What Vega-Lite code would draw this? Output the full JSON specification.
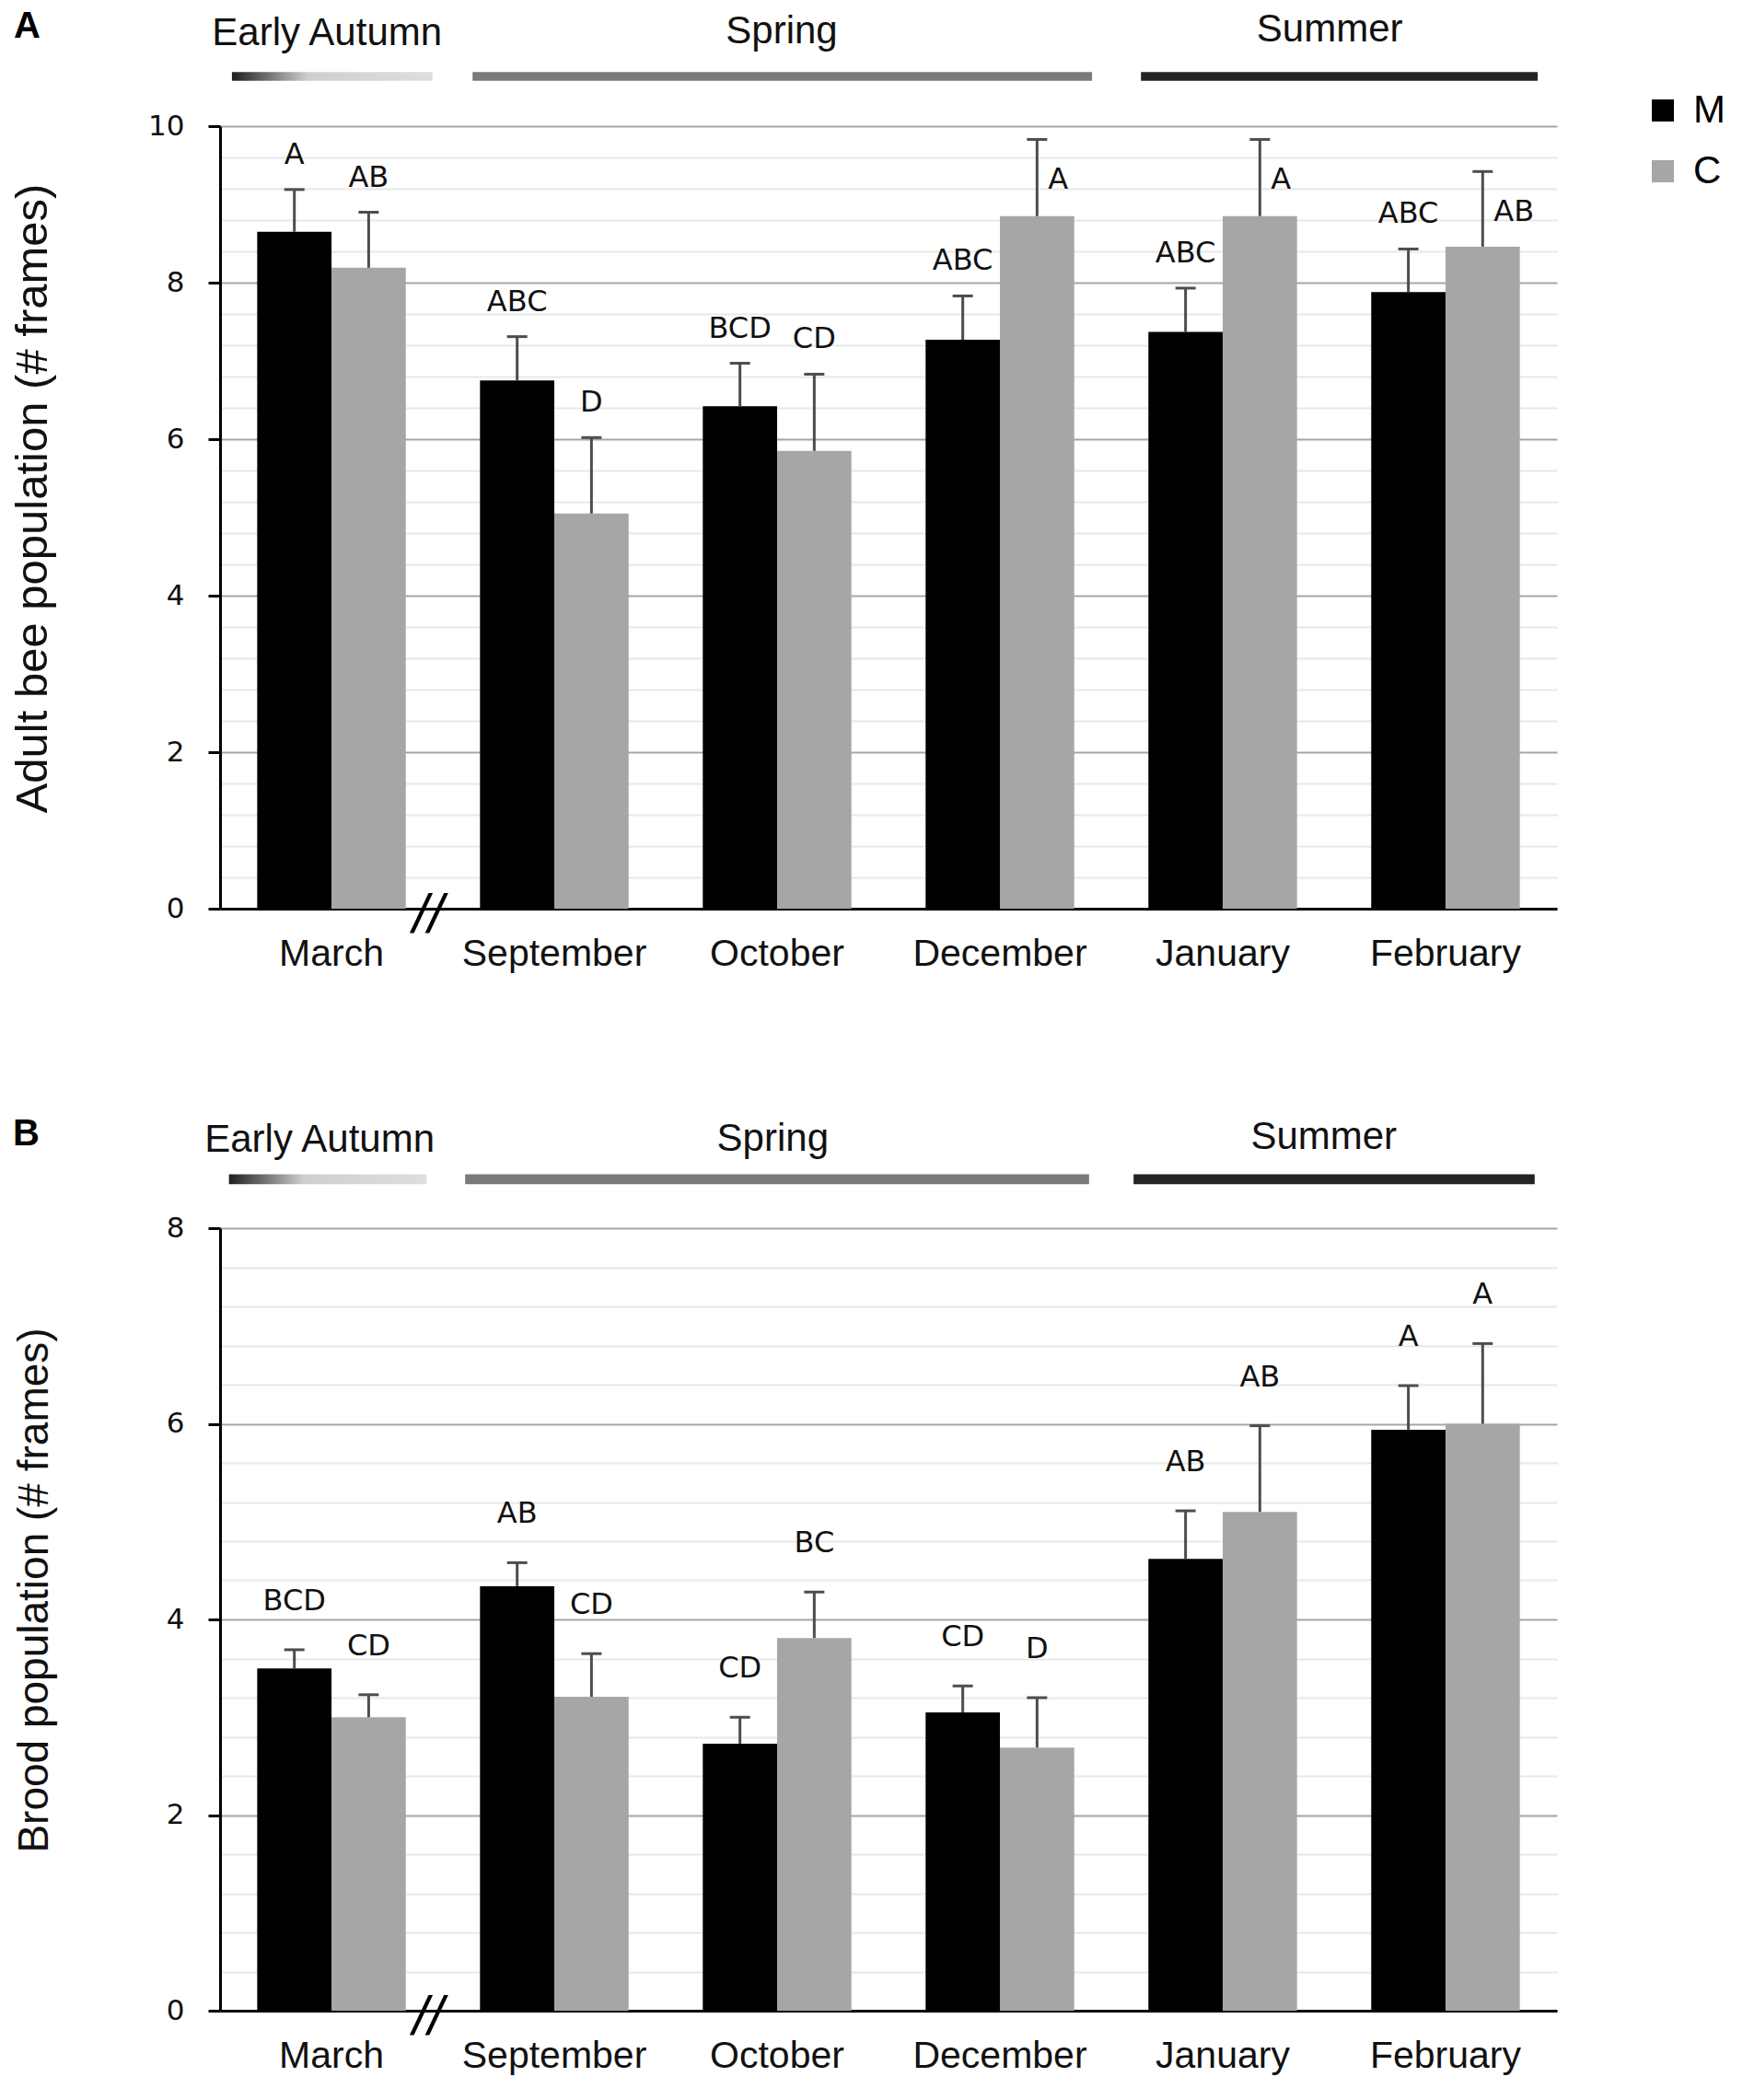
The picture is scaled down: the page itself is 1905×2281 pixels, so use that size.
{
  "$schema": "https://vega.github.io/schema/vega-lite/v6.json",
  "padding": {"left": 11, "top": 8, "right": 5, "bottom": 5},
  "background": "white",
  "datasets": {
    "adult": [
      {"month": "March", "group": "M", "value": 8.65, "err": 9.19, "letters": "A"},
      {"month": "March", "group": "C", "value": 8.19, "err": 8.9, "letters": "AB"},
      {"month": "September", "group": "M", "value": 6.75, "err": 7.31, "letters": "ABC"},
      {"month": "September", "group": "C", "value": 5.05, "err": 6.02, "letters": "D"},
      {"month": "October", "group": "M", "value": 6.42, "err": 6.97, "letters": "BCD"},
      {"month": "October", "group": "C", "value": 5.85, "err": 6.83, "letters": "CD"},
      {"month": "December", "group": "M", "value": 7.27, "err": 7.83, "letters": "ABC"},
      {"month": "December", "group": "C", "value": 8.85, "err": 9.83, "letters": "A"},
      {"month": "January", "group": "M", "value": 7.37, "err": 7.93, "letters": "ABC"},
      {"month": "January", "group": "C", "value": 8.85, "err": 9.83, "letters": "A"},
      {"month": "February", "group": "M", "value": 7.88, "err": 8.43, "letters": "ABC"},
      {"month": "February", "group": "C", "value": 8.46, "err": 9.42, "letters": "AB"}
    ],
    "brood": [
      {"month": "March", "group": "M", "value": 3.5, "err": 3.69, "letters": "BCD"},
      {"month": "March", "group": "C", "value": 3.0, "err": 3.23, "letters": "CD"},
      {"month": "September", "group": "M", "value": 4.34, "err": 4.58, "letters": "AB"},
      {"month": "September", "group": "C", "value": 3.21, "err": 3.65, "letters": "CD"},
      {"month": "October", "group": "M", "value": 2.73, "err": 3.0, "letters": "CD"},
      {"month": "October", "group": "C", "value": 3.81, "err": 4.28, "letters": "BC"},
      {"month": "December", "group": "M", "value": 3.05, "err": 3.32, "letters": "CD"},
      {"month": "December", "group": "C", "value": 2.69, "err": 3.2, "letters": "D"},
      {"month": "January", "group": "M", "value": 4.62, "err": 5.11, "letters": "AB"},
      {"month": "January", "group": "C", "value": 5.1, "err": 5.98, "letters": "AB"},
      {"month": "February", "group": "M", "value": 5.94, "err": 6.39, "letters": "A"},
      {"month": "February", "group": "C", "value": 6.0, "err": 6.82, "letters": "A"}
    ],
    "seasons": [
      {"season": "Early Autumn", "from": "March", "to": "March"},
      {"season": "Spring", "from": "September", "to": "December"},
      {"season": "Summer", "from": "January", "to": "February"}
    ]
  },
  "spacing": 156,
  "resolve": {"scale": {"color": "independent"}},
  "vconcat": [
    {
      "title": {"text": "A", "anchor": "start", "frame": "group", "fontSize": 40, "fontWeight": "bold", "font": "Liberation Sans", "color": "#000", "offset": -38, "dx": -224},
      "width": 1452,
      "height": 850,
      "layer": [
        {
          "data": {"name": "adult"},
          "mark": {"type": "bar"},
          "encoding": {
            "x": {"field": "month", "type": "nominal", "title": null, "scale": {"domain": ["March", "September", "October", "December", "January", "February"], "paddingInner": 0.333, "paddingOuter": 0.1667}},
            "xOffset": {"field": "group", "scale": {"domain": ["M", "C"], "paddingInner": 0, "paddingOuter": 0}},
            "y": {
              "field": "value", "type": "quantitative",
              "scale": {"domain": [0, 10], "nice": false},
              "axis": {
                "title": "Adult bee population (# frames)",
                "titleFontSize": 49,
                "titleY": 404,
                "values": [0, 0.4, 0.8, 1.2, 1.6, 2, 2.4, 2.8, 3.2, 3.6, 4, 4.4, 4.8, 5.2, 5.6, 6, 6.4, 6.8, 7.2, 7.6, 8, 8.4, 8.8, 9.2, 9.6, 10],
                "tickCount": 40,
                "labelExpr": "datum.value % 2 === 0 ? format(datum.value, 'd') : ''",
                "gridColor": {"condition": {"test": "datum.value % 2 === 0", "value": "#a6a6a6"}, "value": "#e8e8e8"},
                "tickColor": {"condition": {"test": "datum.value % 2 === 0", "value": "#000000"}, "value": "transparent"},
                "labelOverlap": false,
                "titlePadding": 100
              }
            },
            "color": {
              "field": "group", "type": "nominal",
              "scale": {"domain": ["M", "C"], "range": ["#000000", "#a6a6a6"]},
              "legend": {"title": null, "orient": "none", "legendX": 1546, "legendY": -38, "symbolType": "square", "symbolSize": 576, "symbolStrokeWidth": 0, "labelFontSize": 42, "labelFont": "Liberation Sans", "labelColor": "#000", "rowPadding": 24, "labelOffset": 12}
            }
          }
        },
        {
          "data": {"name": "adult"},
          "mark": {"type": "rule", "color": "#4d4d4d", "strokeWidth": 3},
          "encoding": {
            "x": {"field": "month", "type": "nominal", "title": null, "scale": {"domain": ["March", "September", "October", "December", "January", "February"], "paddingInner": 0.333, "paddingOuter": 0.1667}},
            "xOffset": {"field": "group", "scale": {"domain": ["M", "C"], "paddingInner": 0, "paddingOuter": 0}},
            "y": {"field": "value", "type": "quantitative", "title": "Adult bee population (# frames)"},
            "y2": {"field": "err"}
          }
        },
        {
          "data": {"name": "adult"},
          "mark": {"type": "tick", "color": "#4d4d4d", "size": 22, "thickness": 3, "orient": "horizontal", "opacity": 1},
          "encoding": {
            "x": {"field": "month", "type": "nominal", "title": null, "scale": {"domain": ["March", "September", "October", "December", "January", "February"], "paddingInner": 0.333, "paddingOuter": 0.1667}},
            "xOffset": {"field": "group", "scale": {"domain": ["M", "C"], "paddingInner": 0, "paddingOuter": 0}},
            "y": {"field": "err", "type": "quantitative", "title": "Adult bee population (# frames)"}
          }
        },
        {
          "data": {"name": "adult"},
          "transform": [{"filter": "datum.err <= 9.3"}],
          "mark": {"type": "text", "font": "DejaVu Sans", "fontSize": 32, "color": "#111", "baseline": "middle", "align": "center", "dy": -38},
          "encoding": {
            "x": {"field": "month", "type": "nominal", "title": null, "scale": {"domain": ["March", "September", "October", "December", "January", "February"], "paddingInner": 0.333, "paddingOuter": 0.1667}},
            "xOffset": {"field": "group", "scale": {"domain": ["M", "C"], "paddingInner": 0, "paddingOuter": 0}},
            "y": {"field": "err", "type": "quantitative", "title": "Adult bee population (# frames)"},
            "text": {"field": "letters"}
          }
        },
        {
          "data": {"name": "adult"},
          "transform": [{"filter": "datum.err > 9.3"}],
          "mark": {"type": "text", "font": "DejaVu Sans", "fontSize": 32, "color": "#111", "baseline": "middle", "align": "left", "dx": 12, "dy": 44},
          "encoding": {
            "x": {"field": "month", "type": "nominal", "title": null, "scale": {"domain": ["March", "September", "October", "December", "January", "February"], "paddingInner": 0.333, "paddingOuter": 0.1667}},
            "xOffset": {"field": "group", "scale": {"domain": ["M", "C"], "paddingInner": 0, "paddingOuter": 0}},
            "y": {"field": "err", "type": "quantitative", "title": "Adult bee population (# frames)"},
            "text": {"field": "letters"}
          }
        },
        {
          "data": {"values": [{"mark": "//"}]},
          "mark": {"type": "text", "font": "Liberation Sans", "fontSize": 60, "fontStyle": "italic", "color": "#000", "baseline": "middle", "align": "center", "dy": 8},
          "encoding": {
            "x": {"datum": "March", "type": "nominal", "bandPosition": 1.15, "title": null, "scale": {"domain": ["March", "September", "October", "December", "January", "February"], "paddingInner": 0.333, "paddingOuter": 0.1667}},
            "y": {"datum": 0, "type": "quantitative"},
            "text": {"field": "mark"}
          }
        },
        {
          "data": {"name": "seasons"},
          "transform": [{"filter": "datum.season === 'Early Autumn'"}],
          "mark": {"type": "rect", "fill": {"gradient": "linear", "x1": 0, "y1": 0, "x2": 1, "y2": 0, "stops": [{"offset": 0, "color": "#1e1e1e"}, {"offset": 0.38, "color": "#cfcfcf"}, {"offset": 1, "color": "#dedede"}]}},
          "encoding": {
            "x": {"field": "from", "type": "nominal", "bandPosition": -0.17, "title": null, "scale": {"domain": ["March", "September", "October", "December", "January", "February"], "paddingInner": 0.333, "paddingOuter": 0.1667}},
            "x2": {"field": "to", "bandPosition": 1.18},
            "y": {"datum": 10.69, "type": "quantitative"},
            "y2": {"datum": 10.58}
          }
        },
        {
          "data": {"name": "seasons"},
          "transform": [{"filter": "datum.season !== 'Early Autumn'"}],
          "mark": {"type": "rect"},
          "encoding": {
            "x": {"field": "from", "type": "nominal", "bandPosition": -0.05, "title": null, "scale": {"domain": ["March", "September", "October", "December", "January", "February"], "paddingInner": 0.333, "paddingOuter": 0.1667}},
            "x2": {"field": "to", "bandPosition": 1.12},
            "y": {"datum": 10.69, "type": "quantitative"},
            "y2": {"datum": 10.58},
            "fill": {"condition": {"test": "datum.season === 'Summer'", "value": "#232323"}, "value": "#7a7a7a"}
          }
        },
        {
          "data": {"name": "seasons"},
          "transform": [{"filter": "datum.season === 'Early Autumn'"}],
          "mark": {"type": "text", "font": "Liberation Sans", "fontSize": 42, "color": "#111", "baseline": "middle"},
          "encoding": {
            "x": {"field": "from", "type": "nominal", "bandPosition": 0.47, "title": null, "scale": {"domain": ["March", "September", "October", "December", "January", "February"], "paddingInner": 0.333, "paddingOuter": 0.1667}},
            "y": {"datum": 11.19, "type": "quantitative"},
            "text": {"field": "season"}
          }
        },
        {
          "data": {"name": "seasons"},
          "transform": [{"filter": "datum.season === 'Spring'"}],
          "mark": {"type": "text", "font": "Liberation Sans", "fontSize": 42, "color": "#111", "baseline": "middle"},
          "encoding": {
            "x": {"field": "from", "type": "nominal", "bandPosition": 2.03, "title": null, "scale": {"domain": ["March", "September", "October", "December", "January", "February"], "paddingInner": 0.333, "paddingOuter": 0.1667}},
            "y": {"datum": 11.21, "type": "quantitative"},
            "text": {"field": "season"}
          }
        },
        {
          "data": {"name": "seasons"},
          "transform": [{"filter": "datum.season === 'Summer'"}],
          "mark": {"type": "text", "font": "Liberation Sans", "fontSize": 42, "color": "#111", "baseline": "middle"},
          "encoding": {
            "x": {"field": "from", "type": "nominal", "bandPosition": 1.22, "title": null, "scale": {"domain": ["March", "September", "October", "December", "January", "February"], "paddingInner": 0.333, "paddingOuter": 0.1667}},
            "y": {"datum": 11.24, "type": "quantitative"},
            "text": {"field": "season"}
          }
        }
      ]
    },
    {
      "title": {"text": "B", "anchor": "start", "frame": "group", "fontSize": 40, "fontWeight": "bold", "font": "Liberation Sans", "color": "#000", "offset": -38, "dx": -225},
      "width": 1452,
      "height": 850,
      "layer": [
        {
          "data": {"name": "brood"},
          "mark": {"type": "bar"},
          "encoding": {
            "x": {"field": "month", "type": "nominal", "title": null, "scale": {"domain": ["March", "September", "October", "December", "January", "February"], "paddingInner": 0.333, "paddingOuter": 0.1667}},
            "xOffset": {"field": "group", "scale": {"domain": ["M", "C"], "paddingInner": 0, "paddingOuter": 0}},
            "y": {
              "field": "value", "type": "quantitative",
              "scale": {"domain": [0, 8], "nice": false},
              "axis": {
                "title": "Brood population (# frames)",
                "titleFontSize": 46,
                "titleY": 393,
                "values": [0, 0.4, 0.8, 1.2, 1.6, 2, 2.4, 2.8, 3.2, 3.6, 4, 4.4, 4.8, 5.2, 5.6, 6, 6.4, 6.8, 7.2, 7.6, 8],
                "tickCount": 40,
                "labelExpr": "datum.value % 2 === 0 ? format(datum.value, 'd') : ''",
                "gridColor": {"condition": {"test": "datum.value % 2 === 0", "value": "#a6a6a6"}, "value": "#e8e8e8"},
                "tickColor": {"condition": {"test": "datum.value % 2 === 0", "value": "#000000"}, "value": "transparent"},
                "labelOverlap": false,
                "titlePadding": 119
              }
            },
            "color": {
              "field": "group", "type": "nominal",
              "scale": {"domain": ["M", "C"], "range": ["#000000", "#a6a6a6"]},
              "legend": null
            }
          }
        },
        {
          "data": {"name": "brood"},
          "mark": {"type": "rule", "color": "#4d4d4d", "strokeWidth": 3},
          "encoding": {
            "x": {"field": "month", "type": "nominal", "title": null, "scale": {"domain": ["March", "September", "October", "December", "January", "February"], "paddingInner": 0.333, "paddingOuter": 0.1667}},
            "xOffset": {"field": "group", "scale": {"domain": ["M", "C"], "paddingInner": 0, "paddingOuter": 0}},
            "y": {"field": "value", "type": "quantitative", "title": "Brood population (# frames)"},
            "y2": {"field": "err"}
          }
        },
        {
          "data": {"name": "brood"},
          "mark": {"type": "tick", "color": "#4d4d4d", "size": 22, "thickness": 3, "orient": "horizontal", "opacity": 1},
          "encoding": {
            "x": {"field": "month", "type": "nominal", "title": null, "scale": {"domain": ["March", "September", "October", "December", "January", "February"], "paddingInner": 0.333, "paddingOuter": 0.1667}},
            "xOffset": {"field": "group", "scale": {"domain": ["M", "C"], "paddingInner": 0, "paddingOuter": 0}},
            "y": {"field": "err", "type": "quantitative", "title": "Brood population (# frames)"}
          }
        },
        {
          "data": {"name": "brood"},
          "mark": {"type": "text", "font": "DejaVu Sans", "fontSize": 32, "color": "#111", "baseline": "middle", "align": "center", "dy": -53},
          "encoding": {
            "x": {"field": "month", "type": "nominal", "title": null, "scale": {"domain": ["March", "September", "October", "December", "January", "February"], "paddingInner": 0.333, "paddingOuter": 0.1667}},
            "xOffset": {"field": "group", "scale": {"domain": ["M", "C"], "paddingInner": 0, "paddingOuter": 0}},
            "y": {"field": "err", "type": "quantitative", "title": "Brood population (# frames)"},
            "text": {"field": "letters"}
          }
        },
        {
          "data": {"values": [{"mark": "//"}]},
          "mark": {"type": "text", "font": "Liberation Sans", "fontSize": 60, "fontStyle": "italic", "color": "#000", "baseline": "middle", "align": "center", "dy": 8},
          "encoding": {
            "x": {"datum": "March", "type": "nominal", "bandPosition": 1.15, "title": null, "scale": {"domain": ["March", "September", "October", "December", "January", "February"], "paddingInner": 0.333, "paddingOuter": 0.1667}},
            "y": {"datum": 0, "type": "quantitative"},
            "text": {"field": "mark"}
          }
        },
        {
          "data": {"name": "seasons"},
          "transform": [{"filter": "datum.season === 'Early Autumn'"}],
          "mark": {"type": "rect", "fill": {"gradient": "linear", "x1": 0, "y1": 0, "x2": 1, "y2": 0, "stops": [{"offset": 0, "color": "#1e1e1e"}, {"offset": 0.38, "color": "#cfcfcf"}, {"offset": 1, "color": "#dedede"}]}},
          "encoding": {
            "x": {"field": "from", "type": "nominal", "bandPosition": -0.19, "title": null, "scale": {"domain": ["March", "September", "October", "December", "January", "February"], "paddingInner": 0.333, "paddingOuter": 0.1667}},
            "x2": {"field": "to", "bandPosition": 1.14},
            "y": {"datum": 8.55, "type": "quantitative"},
            "y2": {"datum": 8.45}
          }
        },
        {
          "data": {"name": "seasons"},
          "transform": [{"filter": "datum.season !== 'Early Autumn'"}],
          "mark": {"type": "rect"},
          "encoding": {
            "x": {"field": "from", "type": "nominal", "bandPosition": -0.1, "title": null, "scale": {"domain": ["March", "September", "October", "December", "January", "February"], "paddingInner": 0.333, "paddingOuter": 0.1667}},
            "x2": {"field": "to", "bandPosition": 1.1},
            "y": {"datum": 8.55, "type": "quantitative"},
            "y2": {"datum": 8.45},
            "fill": {"condition": {"test": "datum.season === 'Summer'", "value": "#232323"}, "value": "#7a7a7a"}
          }
        },
        {
          "data": {"name": "seasons"},
          "transform": [{"filter": "datum.season === 'Early Autumn'"}],
          "mark": {"type": "text", "font": "Liberation Sans", "fontSize": 42, "color": "#111", "baseline": "middle"},
          "encoding": {
            "x": {"field": "from", "type": "nominal", "bandPosition": 0.42, "title": null, "scale": {"domain": ["March", "September", "October", "December", "January", "February"], "paddingInner": 0.333, "paddingOuter": 0.1667}},
            "y": {"datum": 8.9, "type": "quantitative"},
            "text": {"field": "season"}
          }
        },
        {
          "data": {"name": "seasons"},
          "transform": [{"filter": "datum.season === 'Spring'"}],
          "mark": {"type": "text", "font": "Liberation Sans", "fontSize": 42, "color": "#111", "baseline": "middle"},
          "encoding": {
            "x": {"field": "from", "type": "nominal", "bandPosition": 1.97, "title": null, "scale": {"domain": ["March", "September", "October", "December", "January", "February"], "paddingInner": 0.333, "paddingOuter": 0.1667}},
            "y": {"datum": 8.91, "type": "quantitative"},
            "text": {"field": "season"}
          }
        },
        {
          "data": {"name": "seasons"},
          "transform": [{"filter": "datum.season === 'Summer'"}],
          "mark": {"type": "text", "font": "Liberation Sans", "fontSize": 42, "color": "#111", "baseline": "middle"},
          "encoding": {
            "x": {"field": "from", "type": "nominal", "bandPosition": 1.18, "title": null, "scale": {"domain": ["March", "September", "October", "December", "January", "February"], "paddingInner": 0.333, "paddingOuter": 0.1667}},
            "y": {"datum": 8.93, "type": "quantitative"},
            "text": {"field": "season"}
          }
        }
      ]
    }
  ],
  "config": {
    "view": {"stroke": null},
    "font": "Liberation Sans",
    "axis": {"domainColor": "#000000", "domainWidth": 3, "labelColor": "#111111", "titleColor": "#111111", "titleFontWeight": "normal"},
    "axisX": {"ticks": false, "tickSize": 0, "labelFontSize": 41, "labelFont": "Liberation Sans", "labelPadding": 29, "labelAngle": 0, "labelLimit": 400, "grid": false},
    "axisY": {"labelFontSize": 31, "labelFont": "DejaVu Sans", "tickSize": 13, "tickWidth": 3, "labelPadding": 26, "titleFont": "Liberation Sans", "gridWidth": 2, "grid": true}
  }
}
